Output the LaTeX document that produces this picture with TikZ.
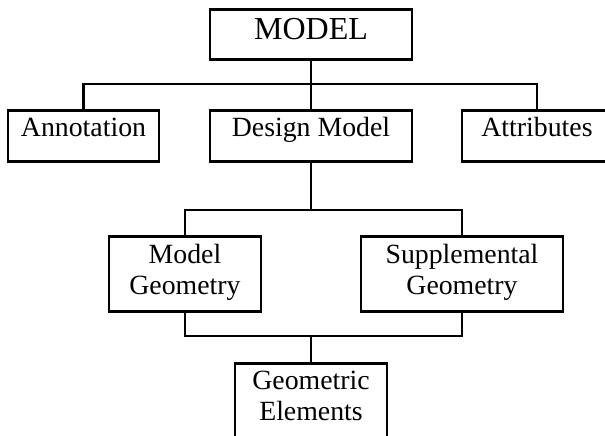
\documentclass[tikz,border=0pt]{standalone}
\usepackage{fontspec}
\setmainfont{Liberation Serif}
\usetikzlibrary{positioning}

\tikzset{
  box/.style={draw, rectangle, line width=2pt, inner sep=0pt, anchor=north,
    font=\fontsize{20.85pt}{23.25pt}\selectfont},
  topbox/.style={box, minimum width=151.5pt, text height=22.5pt, text depth=15pt,
    font=\fontsize{24pt}{28pt}\selectfont},
  onebox/.style={box, text height=19.9pt, text depth=18.4pt},
  twobox/.style={box, align=center, text height=43.5pt, text depth=13.1pt},
  link/.style={line width=1.8pt}
}

\begin{document}
\begin{tikzpicture}[x=0.75pt, y=-0.75pt]

\useasboundingbox (0,0) rectangle (605,435);

% --- Boxes ---
\node[topbox] (model) at (311,8) {MODEL};
\node[onebox, minimum width=113.25pt] (annot) at (83.5,109) {Annotation};
\node[onebox, minimum width=151.5pt] (design) at (311,109) {Design Model};
\node[onebox, minimum width=112.5pt] (attr) at (537,109) {Attributes};
\node[twobox, minimum width=114pt] (mgeo) at (185,235) {Model\\Geometry};
\node[twobox, minimum width=151.5pt] (sgeo) at (462,235) {Supplemental\\Geometry};
\node[twobox, minimum width=114pt, text height=42.75pt, text depth=60pt] (gelem) at (311,362) {Geometric\\Elements};

% --- Junction points ---
\coordinate (hub1) at (311,84);
\coordinate (hub2) at (311,210);
\coordinate (hub3) at (311,336);

% --- Connectors ---
\draw[link] (model.south) -- (design.north);
\draw[link] (annot.north) |- (hub1) -| (attr.north);
\draw[link] (design.south) -- (hub2);
\draw[link] (mgeo.north) |- (hub2) -| (sgeo.north);
\draw[link] (mgeo.south) |- (hub3) -| (sgeo.south);
\draw[link] (hub3) -- (gelem.north);

\end{tikzpicture}
\end{document}
